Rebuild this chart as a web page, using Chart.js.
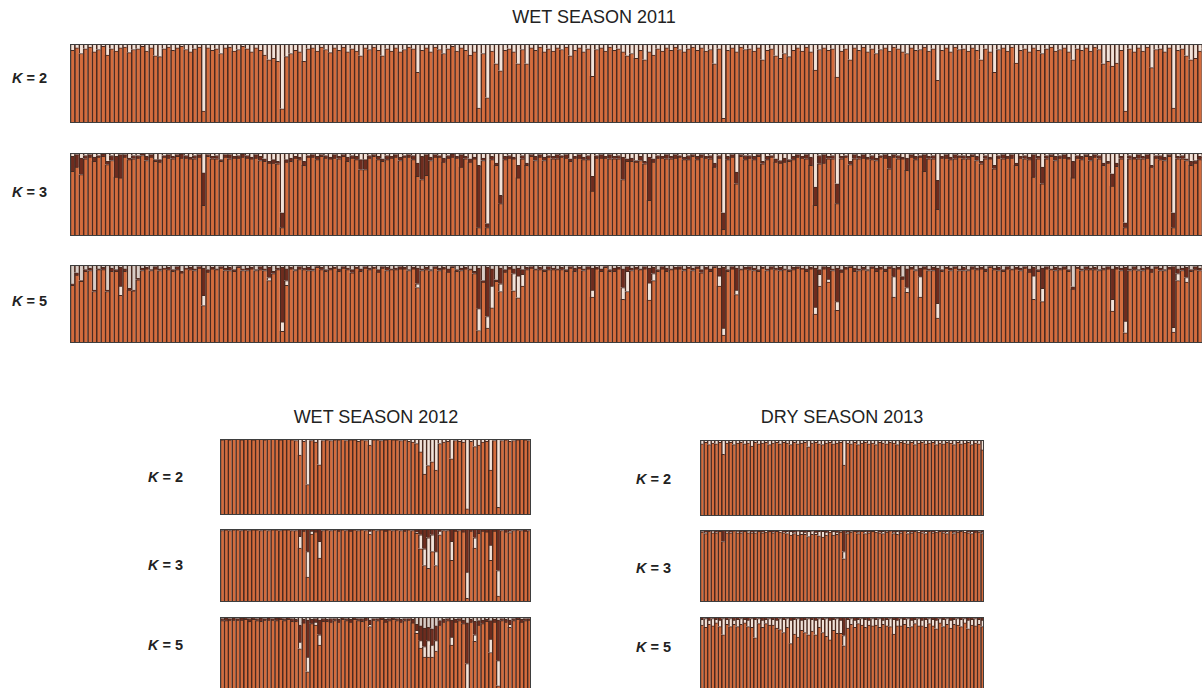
<!DOCTYPE html>
<html>
<head>
<meta charset="utf-8">
<script src="https://cdn.jsdelivr.net/npm/chart.js@4"></script>
<style>
  html, body { margin: 0; padding: 0; background: #fff; overflow: hidden; }
  body { width: 1202px; height: 688px; position: relative; font-family: "Liberation Sans", Arial, sans-serif; color: #222; }
  canvas { position: absolute; }
  .title { position: absolute; font-size: 18px; transform: translateX(-50%); white-space: nowrap; }
  .k { position: absolute; font-size: 14.5px; font-weight: bold; white-space: nowrap; }
  .k i { font-style: italic; }
</style>
</head>
<body>
<div class="title" style="left:594px; top:7px;">WET SEASON 2011</div>
<div class="k" style="left:12px; top:70px;"><i>K</i> = 2</div>
<div class="k" style="left:12px; top:184px;"><i>K</i> = 3</div>
<div class="k" style="left:12px; top:293px;"><i>K</i> = 5</div>
<canvas id="w11k2" width="1136" height="79" style="left:70px; top:44px;"></canvas>
<canvas id="w11k3" width="1136" height="83" style="left:70px; top:153px;"></canvas>
<canvas id="w11k5" width="1136" height="78" style="left:70px; top:265px;"></canvas>

<div class="title" style="left:376px; top:407px;">WET SEASON 2012</div>
<div class="k" style="left:148px; top:469px;"><i>K</i> = 2</div>
<div class="k" style="left:148px; top:557px;"><i>K</i> = 3</div>
<div class="k" style="left:148px; top:637px;"><i>K</i> = 5</div>
<canvas id="w12k2" width="311" height="76" style="left:220px; top:439px;"></canvas>
<canvas id="w12k3" width="311" height="73" style="left:220px; top:529px;"></canvas>
<canvas id="w12k5" width="311" height="74" style="left:220px; top:617px;"></canvas>

<div class="title" style="left:842px; top:407px;">DRY SEASON 2013</div>
<div class="k" style="left:636px; top:471px;"><i>K</i> = 2</div>
<div class="k" style="left:636px; top:560px;"><i>K</i> = 3</div>
<div class="k" style="left:636px; top:639px;"><i>K</i> = 5</div>
<canvas id="d13k2" width="284" height="76" style="left:700px; top:440px;"></canvas>
<canvas id="d13k3" width="284" height="72" style="left:700px; top:530px;"></canvas>
<canvas id="d13k5" width="284" height="74" style="left:700px; top:617px;"></canvas>

<script>
// membership (%) of the minor clusters per individual; main cluster is the rest

// ---- wet season 2011 ----
const wet11K2Light = [
  8,5,12,6,4,10,7,3,14,6,9,5,4,11,7,6,3,9,5,15,
  16,6,4,8,5,3,7,10,6,4,85,5,8,6,12,5,4,9,7,3,
  6,10,5,8,14,20,18,22,82,16,12,8,10,22,6,5,9,4,7,11,
  5,8,4,10,6,9,15,5,7,4,8,15,6,9,5,10,7,4,6,36,
  8,5,10,4,7,12,6,3,9,5,8,14,10,81,12,68,9,25,34,8,
  6,10,25,7,25,5,8,4,10,6,9,5,7,4,15,8,5,10,6,41,
  7,5,9,4,8,6,10,15,12,18,8,20,10,14,6,9,5,8,4,7,
  10,6,4,8,5,9,7,25,6,94,8,5,10,4,7,6,9,5,20,8,
  6,15,18,12,16,8,5,9,4,10,33,7,5,8,6,42,9,6,20,5,
  8,4,10,6,12,7,5,9,4,6,10,12,5,8,7,4,9,6,46,8,
  5,10,4,7,6,9,5,8,20,6,10,36,7,5,9,4,24,8,6,10,
  5,8,12,6,4,9,7,5,10,20,6,8,5,9,4,7,25,22,28,24,
  8,85,6,10,5,9,4,30,7,6,10,5,81,8,6,15,20,18,9,6
];
const wet11K3Dark = [
  18,15,20,4,3,5,2,3,4,6,25,28,3,2,4,3,2,5,3,2,
  3,2,4,3,2,5,3,2,4,3,39,2,3,4,2,3,5,2,3,4,
  3,2,4,5,3,2,4,3,18,3,4,2,3,5,2,3,4,2,3,2,
  4,3,2,5,3,4,12,12,3,2,4,3,5,2,3,4,2,3,5,16,
  28,25,4,3,2,5,3,4,2,15,3,4,2,75,3,5,4,3,10,4,
  3,2,15,4,3,2,5,3,4,2,3,5,2,4,3,2,4,3,5,18,
  3,4,2,5,3,4,27,3,4,2,5,3,52,4,3,2,5,3,4,2,
  3,5,2,4,3,2,4,5,3,20,4,3,14,2,5,3,4,2,3,4,
  2,4,3,5,2,4,3,2,5,10,22,10,10,3,4,24,3,2,4,5,
  3,4,2,5,3,2,4,15,3,4,2,15,3,4,2,20,3,4,35,2,
  4,3,5,2,4,3,2,5,3,4,2,4,3,5,2,4,3,2,4,3,
  27,3,20,4,2,5,3,4,2,20,3,4,2,5,3,4,3,2,15,4,
  3,6,4,2,5,3,4,2,3,5,4,2,18,3,4,2,5,3,4,2
];
const wet11K3Light = [
  4,2,6,3,2,5,3,1,10,3,4,2,2,6,3,3,1,4,2,8,
  8,3,2,4,2,1,3,5,3,2,24,2,4,3,8,2,2,4,3,1,
  3,5,2,4,7,10,8,10,72,8,6,4,5,10,3,2,4,2,3,5,
  2,4,2,5,3,4,8,8,3,2,4,7,3,4,2,5,3,2,3,12,
  4,2,5,2,3,6,3,1,4,2,4,7,5,15,6,85,4,12,51,4,
  3,5,15,3,12,2,4,2,5,3,4,2,3,2,7,4,2,5,3,28,
  3,2,4,2,4,3,5,7,6,9,4,10,5,7,3,4,2,4,2,3,
  5,3,2,4,2,4,3,12,3,72,4,2,23,2,3,3,4,2,10,4,
  3,7,9,6,8,4,2,4,2,5,41,3,2,4,3,37,4,3,10,2,
  4,2,5,3,6,3,2,4,2,3,5,6,2,4,3,2,4,3,33,4,
  2,5,2,3,3,4,2,4,10,3,5,15,3,2,4,2,12,4,3,5,
  2,4,17,3,2,4,3,2,5,10,3,4,2,4,2,3,12,10,25,12,
  4,84,3,5,2,4,2,15,3,3,5,2,72,4,3,7,10,9,4,3
];
const wet11K5Light = [
  0,0,0,0,0,0,0,0,0,0,0,12,0,0,0,0,0,0,0,0,
  0,0,0,0,0,0,0,0,0,0,13,0,0,0,0,0,0,0,0,0,
  0,0,0,0,0,4,0,0,12,6,0,0,0,0,0,0,0,0,0,0,
  0,0,0,0,0,0,0,0,0,0,0,0,0,0,0,0,0,0,0,5,
  0,0,0,0,0,0,0,0,0,0,0,0,0,28,0,15,28,0,10,0,
  0,22,28,15,0,0,0,0,0,0,0,0,0,0,0,0,0,0,0,9,
  0,0,0,0,0,0,15,26,0,0,0,0,22,9,0,0,0,0,0,0,
  0,0,0,0,0,0,0,0,13,9,0,0,6,0,0,0,0,0,0,0,
  0,0,0,0,0,0,0,0,0,0,9,15,0,4,0,11,0,0,0,0,
  0,0,0,0,0,0,0,0,26,0,0,6,0,0,26,0,0,0,19,0,
  0,0,0,0,0,0,0,0,0,0,0,0,0,0,0,0,0,0,0,0,
  30,0,17,0,0,0,0,0,0,0,0,0,0,0,0,0,0,0,15,0,
  0,15,0,0,0,0,0,0,0,0,0,0,6,9,0,6,0,0,0,0
];
const wet11K5Dark = [
  2,3,1,2,3,2,1,3,2,4,2,24,3,2,1,2,3,2,1,3,
  2,1,3,2,4,2,1,3,2,2,35,3,2,1,2,3,4,2,1,2,
  3,2,1,4,2,13,3,2,70,15,2,1,3,2,4,2,1,3,2,2,
  1,3,2,2,4,1,3,2,2,1,3,2,4,1,2,3,2,1,2,20,
  2,3,1,2,3,2,4,1,2,3,2,1,3,52,2,63,22,2,20,3,
  2,6,10,6,3,2,1,3,2,4,2,1,3,2,2,4,1,2,3,28,
  2,3,1,2,4,2,24,6,3,2,1,3,19,8,2,3,4,1,2,3,
  2,1,3,2,4,2,3,1,10,78,2,3,28,1,2,4,3,2,1,2,
  3,2,4,1,2,3,2,1,3,2,50,6,3,15,2,43,3,2,1,4,
  2,3,1,2,4,2,3,2,11,2,3,24,2,1,11,3,2,4,45,2,
  1,3,2,2,4,1,3,2,2,3,1,2,4,2,3,1,2,3,2,4,
  11,2,26,3,1,4,2,3,2,3,1,2,4,2,3,1,2,3,39,2,
  3,69,2,4,1,3,2,4,2,3,1,2,78,6,3,13,2,4,3,2
];
const wet11K5Cap = [
  24,10,20,6,4,32,5,3,32,4,6,3,5,30,32,17,4,3,6,2,
  5,4,3,6,2,8,4,3,5,2,4,6,3,5,2,4,3,6,2,5,
  4,3,6,2,5,3,8,4,3,5,3,6,2,4,3,5,2,3,6,4,
  3,5,2,4,6,3,5,2,4,3,6,2,3,5,4,2,3,6,3,4,
  5,3,6,2,4,3,5,2,6,4,3,5,8,4,20,3,5,19,4,6,
  3,5,4,6,3,2,5,3,6,2,4,5,3,6,2,4,3,5,2,4,
  3,5,2,6,4,3,5,2,4,3,5,2,4,3,6,2,4,5,3,2,
  5,3,4,2,6,3,5,2,4,3,6,2,4,5,3,2,4,6,3,5,
  2,4,3,5,6,3,2,4,5,3,4,6,2,3,5,4,6,3,2,4,
  5,3,6,2,4,3,5,2,4,3,15,5,3,6,4,2,5,3,4,6,
  3,4,2,5,3,6,2,4,3,5,2,4,3,6,2,5,3,4,2,5,
  3,6,4,2,5,3,4,2,6,28,3,5,2,4,3,6,4,2,5,3,
  4,3,5,2,6,4,3,5,2,4,6,3,2,5,4,3,6,2,4,5
];

// ---- wet season 2012 ----
const wet12K2Light = [
  1,0,1,0,0,1,0,0,1,0,0,1,0,0,0,1,0,0,1,2,
  21,3,60,2,4,34,2,1,2,1,1,0,2,1,1,3,1,2,8,1,
  1,2,1,0,1,1,2,1,3,4,6,17,46,35,30,41,6,4,3,26,
  2,3,4,92,3,10,8,4,3,41,2,90,2,1,3,2,1,0,1,2
];
const wet12K3Light = [
  0,0,0,0,0,0,0,0,0,0,0,0,0,0,0,0,0,0,0,0,
  16,0,35,4,0,23,0,0,0,0,0,0,0,0,0,0,0,0,4,0,
  0,0,0,0,0,0,0,0,0,0,2,19,23,42,23,19,5,0,0,26,
  0,0,0,36,0,14,0,0,0,21,0,35,0,0,2,0,0,0,0,0
];
const wet12K3Dark = [
  2,1,2,1,1,2,1,2,1,1,2,1,2,1,1,2,1,1,2,2,
  10,3,31,3,4,17,2,1,2,1,3,1,2,3,1,2,1,2,3,1,
  2,1,3,1,2,1,2,3,1,2,4,8,27,12,8,31,3,2,2,17,
  3,2,4,59,3,12,6,3,4,22,3,57,2,4,3,2,1,2,3,2
];
const wet12K5Light = [
  0,0,0,0,0,0,0,0,0,0,0,0,0,0,0,0,0,0,0,0,
  9,0,20,0,4,14,0,0,0,0,0,0,0,0,0,0,0,0,3,0,
  0,0,0,0,0,0,0,0,0,0,4,10,14,22,16,14,0,0,0,11,
  0,0,0,37,0,9,0,0,0,18,0,34,0,0,4,0,0,0,0,0
];
const wet12K5Dark = [
  3,4,2,3,2,3,2,4,2,3,5,2,3,2,4,2,3,2,4,3,
  23,5,50,6,5,20,4,3,5,3,4,2,3,4,2,3,4,3,6,2,
  3,2,4,3,2,3,4,3,2,5,8,20,25,18,22,20,6,4,3,23,
  4,3,5,55,4,18,6,5,3,25,4,55,3,4,6,3,2,4,3,2
];
const wet12K5Cap = [
  2,1,2,1,2,1,1,2,1,2,1,2,1,2,1,1,2,1,2,3,
  11,3,4,3,2,4,2,3,2,2,3,1,2,3,1,2,2,1,4,2,
  2,1,3,2,1,2,3,2,2,3,10,12,15,14,16,12,5,3,2,4,
  3,2,4,8,3,6,5,4,3,5,3,4,2,3,4,2,1,3,2,2
];

// ---- dry season 2013 ----
const dry13K2Light = [
  5,3,6,4,5,3,19,4,3,6,4,3,5,4,8,3,5,4,3,6,
  4,3,5,3,4,6,3,5,4,3,9,4,3,5,6,4,3,5,4,3,
  33,4,5,3,6,4,3,5,4,6,3,4,5,3,4,6,3,4,5,3,
  6,4,3,5,4,3,6,4,5,3,4,6,3,5,4,3,6,4,5,13
];
const dry13K3Light = [
  1,2,0,3,1,0,0,2,1,0,2,1,0,3,1,2,0,1,2,0,
  1,0,2,1,3,5,2,6,4,3,7,5,3,6,8,4,2,5,3,1,
  10,2,1,0,2,1,3,1,0,2,1,3,1,0,2,4,1,0,3,1,
  0,2,1,3,0,1,2,0,1,3,0,2,1,0,2,1,3,0,1,2
];
const dry13K3Dark = [
  2,3,2,1,3,2,16,2,3,1,2,3,2,1,3,2,2,3,1,2,
  3,2,1,3,2,2,3,1,2,3,2,1,3,2,2,3,1,2,3,2,
  30,3,2,2,3,1,2,3,2,1,3,2,2,1,3,2,3,1,2,3,
  2,1,3,2,2,3,1,2,3,2,1,3,2,2,1,3,2,3,2,3
];
const dry13K5Light = [
  8,12,6,10,5,9,22,7,11,6,10,8,5,9,12,25,7,10,6,9,
  8,11,15,18,12,32,20,25,14,18,22,16,20,12,18,24,27,15,20,18,
  14,12,8,10,6,9,11,7,10,8,12,6,9,11,20,8,10,7,12,9,
  6,10,8,11,7,9,12,6,10,8,11,7,9,10,6,12,8,10,7,9
];
const dry13K5Dark = [
  3,2,4,2,3,4,2,3,2,4,3,2,3,4,2,3,2,4,3,2,
  3,4,2,3,2,4,3,2,4,3,2,3,4,2,3,2,4,3,2,4,
  25,3,2,4,3,2,3,4,2,3,2,4,3,2,3,4,2,3,2,4,
  3,2,4,3,2,3,4,2,3,2,4,3,2,3,2,4,3,2,3,4
];

const colors = {
  main: '#d46c3d',
  light: '#f2e2d8',
  dark: '#6e2c1e',
  cap: '#d8ccc5',
  edge: '#4a2a20',
  frame: '#3e3e3e'
};

// outline round each panel
const framePlugin = {
  id: 'frame',
  afterDraw(chart) {
    const { ctx, chartArea: a } = chart;
    ctx.save();
    ctx.strokeStyle = colors.frame;
    ctx.lineWidth = 1;
    ctx.strokeRect(a.left + 0.5, a.top + 0.5, a.right - a.left - 1, a.bottom - a.top - 1);
    ctx.restore();
  }
};

function structurePlot(id, minor) {
  const ids = minor[0].data.map((_, i) => i + 1);
  const main = ids.map((_, i) => 100 - minor.reduce((s, c) => s + c.data[i], 0));
  const sets = [{ data: main, color: colors.main }, ...minor].map(s => ({
    data: s.data,
    backgroundColor: s.color,
    borderColor: colors.edge,
    borderWidth: { left: 1.6, top: 1, right: 0, bottom: 0 },
    borderSkipped: false,
    barPercentage: 1,
    categoryPercentage: 1
  }));
  new Chart(document.getElementById(id), {
    type: 'bar',
    data: { labels: ids, datasets: sets },
    options: {
      responsive: false,
      animation: false,
      layout: { padding: 0 },
      plugins: { legend: { display: false }, tooltip: { enabled: false } },
      scales: {
        x: { stacked: true, display: false },
        y: { stacked: true, display: false, min: 0, max: 100 }
      }
    },
    plugins: [framePlugin]
  });
}

structurePlot('w11k2', [{ data: wet11K2Light, color: colors.light }]);
structurePlot('w11k3', [
  { data: wet11K3Dark, color: colors.dark },
  { data: wet11K3Light, color: colors.light }
]);
structurePlot('w11k5', [
  { data: wet11K5Light, color: colors.light },
  { data: wet11K5Dark, color: colors.dark },
  { data: wet11K5Cap, color: colors.cap }
]);

structurePlot('w12k2', [{ data: wet12K2Light, color: colors.light }]);
structurePlot('w12k3', [
  { data: wet12K3Light, color: colors.light },
  { data: wet12K3Dark, color: colors.dark }
]);
structurePlot('w12k5', [
  { data: wet12K5Light, color: colors.light },
  { data: wet12K5Dark, color: colors.dark },
  { data: wet12K5Cap, color: colors.cap }
]);

structurePlot('d13k2', [{ data: dry13K2Light, color: colors.light }]);
structurePlot('d13k3', [
  { data: dry13K3Light, color: colors.light },
  { data: dry13K3Dark, color: colors.dark }
]);
structurePlot('d13k5', [
  { data: dry13K5Light, color: colors.light },
  { data: dry13K5Dark, color: colors.dark }
]);
</script>
</body>
</html>
